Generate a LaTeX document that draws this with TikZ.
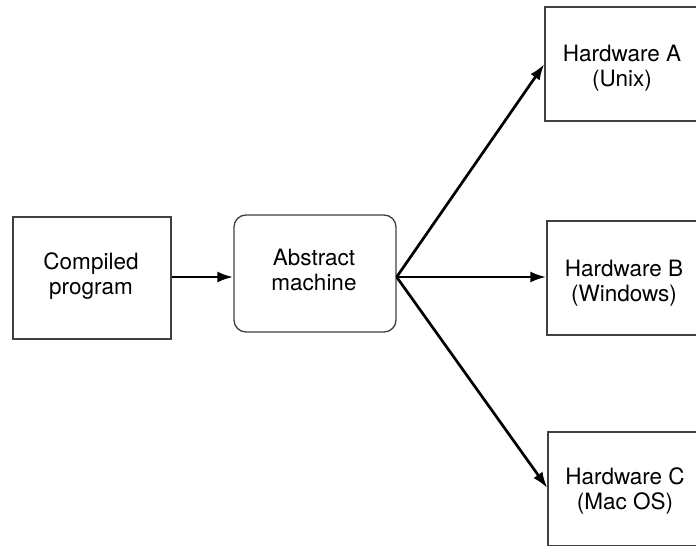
\documentclass[tikz,border=0pt]{standalone}
\usepackage{fontspec}
\setmainfont{TeX Gyre Heros}
\usetikzlibrary{arrows.meta}
\begin{document}
\begin{tikzpicture}[x=1pt,y=-1pt,
  box/.style={draw=black!75, line width=1.3pt, inner sep=0pt, align=center},
  lbl/.style={align=center, inner sep=0pt, font=\fontsize{22.5}{25.5}\selectfont, text=black},
  conn/.style={line width=2.7pt, -{Latex[length=16pt,width=11pt]}}]
\useasboundingbox (0,0) rectangle (696,546);
\clip (0,0) rectangle (696,546);
\node[box, minimum width=158pt, minimum height=122pt] (cp) at (92,278) {};
\node[lbl] (cpt) at (91,276) {Compiled\\program};
\node[box, rounded corners=12pt, minimum width=162pt, minimum height=117pt] (am) at (315,273.5) {};
\node[lbl] (amt) at (314,270) {Abstract\\machine};
\node[box, minimum width=170pt, minimum height=114pt] (ha) at (630,64) {};
\node[lbl] (hat) at (622,68) {Hardware A\\(Unix)};
\node[box, minimum width=170pt, minimum height=114pt] (hb) at (632,278) {};
\node[lbl] (hbt) at (624,283) {Hardware B\\(Windows)};
\node[box, minimum width=170pt, minimum height=114pt] (hc) at (633,489) {};
\node[lbl] (hct) at (625,491) {Hardware C\\(Mac OS)};
\coordinate (src) at (am.east |- 0,277);
\draw[conn] (cp.east |- 0,277) -- (am.west |- 0,277);
\draw[conn] (src) -- (ha.west |- 0,64);
\draw[conn] (src) -- (hb.west |- 0,277);
\draw[conn] (src) -- (hc.west |- 0,488);
\end{tikzpicture}
\end{document}
